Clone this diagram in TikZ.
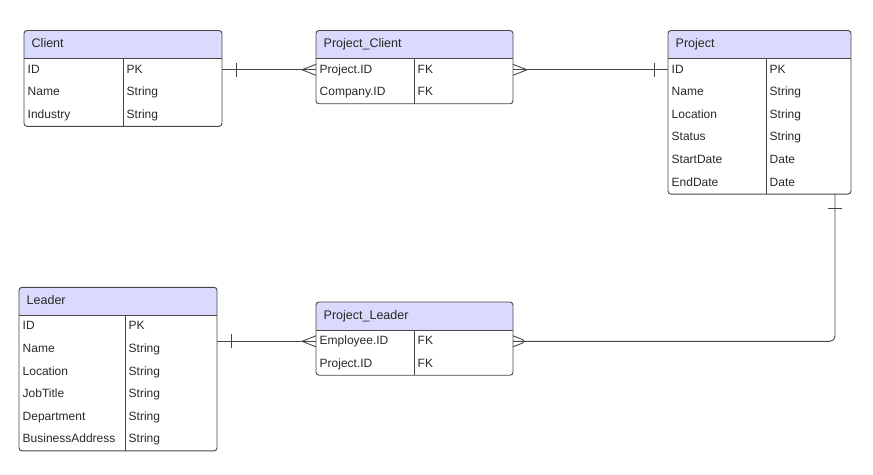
\documentclass[tikz,border=0pt]{standalone}
\usepackage{fontspec}
\setmainfont{Liberation Sans}
\usepackage{tikz}
\usetikzlibrary{calc,decorations.markings}

\definecolor{headblue}{RGB}{218,218,252}
\definecolor{linegray}{RGB}{70,70,70}
\definecolor{textgray}{RGB}{40,40,40}

% #1 name, #2 top left, #3 width, #4 column split, #5 rows, #6 title, #7 fields
\newcommand{\ertable}[7]{%
    \node[tbl, minimum width=#3pt, minimum height={28pt+#5*22.6pt}] (#1) at (#2) {};
    \fill[head, rounded corners=3pt] (#1.north west) rectangle ([yshift=-28pt]#1.north east);
    \fill[head] ([yshift=-14pt]#1.north west) rectangle ([yshift=-28pt]#1.north east);
    \node[cell, font=\headfont] (#1-title) at ([xshift=7.5pt, yshift=-14pt]#1.north west) {#6};
    \draw[edge] ([yshift=-28pt]#1.north west) -- ([yshift=-28pt]#1.north east);
    \draw[edge] ([xshift=#4pt, yshift=-28pt]#1.north west) -- ([xshift=#4pt]#1.south west);
    \foreach \fld/\typ [count=\i] in {#7} {
        \node[cell] (#1-\i) at ([xshift=3.5pt, yshift={-28pt-(\i-0.5)*22.6pt}]#1.north west) {\fld};
        \node[cell] (#1-\i-type) at ([xshift={#4pt+3.5pt}, yshift={-28pt-(\i-0.5)*22.6pt}]#1.north west) {\typ};
    }
    \draw[edge, rounded corners=3pt] (#1.north west) rectangle (#1.south east);
}
\newcommand{\cellfont}{\fontsize{12}{14}\selectfont}
\newcommand{\headfont}{\fontsize{12.5}{14}\selectfont}

\begin{document}
\begin{tikzpicture}[x=1pt, y=-1pt,
        tbl/.style={anchor=north west, inner sep=0pt, outer sep=0pt},
        head/.style={fill=headblue},
        edge/.style={draw=linegray, line width=0.9pt},
        cell/.style={anchor=west, inner sep=0pt, text height=9pt, text depth=2.5pt,
            font=\cellfont, text=textgray},
        crow start/.style={postaction={decorate, decoration={markings,
            mark=at position 0 with {\draw[edge] (0,5.5pt) -- (14pt,0) -- (0,-5.5pt);}}}},
        bar end/.style={postaction={decorate, decoration={markings,
            mark=at position -14pt with {\draw[edge] (0,-7pt) -- (0,7pt);}}}}]
    \useasboundingbox (0,0) rectangle (873,474);

    % tables
    \ertable{client}{24,30.5}{198}{99}{3}{Client}{ID/PK, Name/String, Industry/String}
    \ertable{pcl}{316,30.5}{197}{98}{2}{Project\_Client}{Project.ID/FK, Company.ID/FK}
    \ertable{proj}{668,30.5}{183}{98}{6}{Project}{ID/PK, Name/String, Location/String,
        Status/String, StartDate/Date, EndDate/Date}
    \ertable{leader}{19,287.3}{198}{106}{6}{Leader}{ID/PK, Name/String, Location/String,
        JobTitle/String, Department/String, BusinessAddress/String}
    \ertable{pld}{316,302}{197}{98}{2}{Project\_Leader}{Employee.ID/FK, Project.ID/FK}

    % relations
    \coordinate (projfoot) at ([xshift=-16pt]proj.south east);
    \draw[edge, crow start, bar end] (pcl.west |- pcl-1) -- (client.east |- pcl-1);
    \draw[edge, crow start, bar end] (pcl.east |- pcl-1) -- (proj.west |- pcl-1);
    \draw[edge, crow start, bar end] (pld.west |- pld-1) -- (leader.east |- pld-1);
    \draw[edge, crow start, bar end, rounded corners=5pt] (pld.east |- pld-1) -| (projfoot);
\end{tikzpicture}
\end{document}
